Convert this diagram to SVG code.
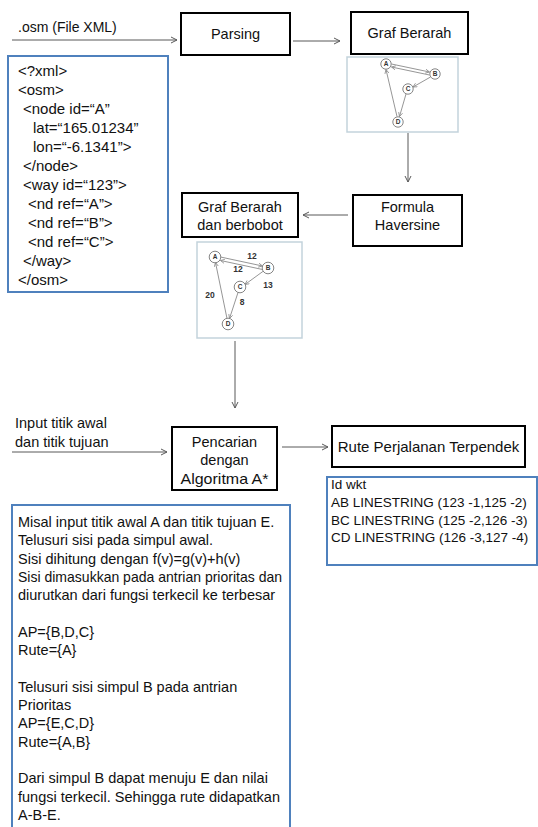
<svg xmlns="http://www.w3.org/2000/svg" width="538" height="827" viewBox="0 0 538 827">
<defs>
<style>
.t{font-family:"Liberation Sans",Arial,sans-serif;font-size:14.5px;fill:#111}
.x{font-size:15px}
.k{font-size:13.5px}
.c{text-anchor:middle}
.box{fill:#fff;stroke:#000;stroke-width:2}
.blue{fill:#fff;stroke:#4f81bd;stroke-width:2}
.img{fill:#fff;stroke:#c3d3dc;stroke-width:1.5}
.conn{stroke:#595959;stroke-width:1;fill:none}
.g{stroke:#8a8a8a;stroke-width:0.9;fill:none}
.nd{fill:#fff;stroke:#777;stroke-width:0.9}
.nl{font-family:"Liberation Sans",Arial,sans-serif;font-size:6.5px;font-weight:bold;fill:#333;text-anchor:middle}
.w{font-family:"Liberation Sans",Arial,sans-serif;font-size:8.5px;font-weight:bold;fill:#333;text-anchor:middle}
</style>
<marker id="ar" markerWidth="8" markerHeight="8" refX="7" refY="4" orient="auto" markerUnits="userSpaceOnUse">
<path d="M1,1 L7,4 L1,7" fill="none" stroke="#595959" stroke-width="1"/>
</marker>
<marker id="sa" markerWidth="5" markerHeight="5" refX="4.5" refY="2.5" orient="auto" markerUnits="userSpaceOnUse">
<path d="M0.5,0.5 L4.5,2.5 L0.5,4.5" fill="none" stroke="#8a8a8a" stroke-width="0.8"/>
</marker>
</defs>
<rect width="538" height="827" fill="#fff"/>

<g id="connectors">
<line class="conn" x1="12" y1="40" x2="177" y2="40" marker-end="url(#ar)"/>
<line class="conn" x1="293" y1="41" x2="340" y2="41" marker-end="url(#ar)"/>
<line class="conn" x1="408" y1="133" x2="408" y2="182" marker-end="url(#ar)"/>
<line class="conn" x1="348" y1="215" x2="303" y2="215" marker-end="url(#ar)"/>
<line class="conn" x1="235" y1="341" x2="235" y2="408" marker-end="url(#ar)"/>
<line class="conn" x1="12" y1="452" x2="167" y2="452" marker-end="url(#ar)"/>
<line class="conn" x1="282" y1="447" x2="328" y2="447" marker-end="url(#ar)"/>
</g>

<g id="input-osm">
<text class="t" x="18" y="32" style="font-size:14px">.osm (File XML)</text>
</g>

<g id="parsing">
<rect class="box" x="181" y="13" width="109" height="42"/>
<text class="t c" x="235.5" y="39">Parsing</text>
</g>

<g id="graf-berarah">
<rect class="box" x="351" y="12" width="117" height="42"/>
<text class="t c" x="409.5" y="38">Graf Berarah</text>
</g>

<g id="graf-berarah-image">
<rect class="img" x="347" y="57" width="111" height="75"/>
<line class="g" x1="391.5" y1="64" x2="429.5" y2="72" marker-end="url(#sa)"/>
<line class="g" x1="429.5" y1="75" x2="391.5" y2="67" marker-end="url(#sa)"/>
<line class="g" x1="430.5" y1="77" x2="413" y2="87" marker-end="url(#sa)"/>
<line class="g" x1="406" y1="94" x2="399.5" y2="116.5" marker-end="url(#sa)"/>
<line class="g" x1="397" y1="116.5" x2="386" y2="69.5" marker-end="url(#sa)"/>
<circle class="nd" cx="386" cy="64" r="5.2"/><text class="nl" x="386" y="66.3">A</text>
<circle class="nd" cx="435" cy="74" r="5.2"/><text class="nl" x="435" y="76.3">B</text>
<circle class="nd" cx="408" cy="89" r="5.2"/><text class="nl" x="408" y="91.3">C</text>
<circle class="nd" cx="398" cy="122" r="5.2"/><text class="nl" x="398" y="124.3">D</text>
</g>

<g id="xml-box">
<rect class="blue" x="8" y="56" width="160" height="236"/>
<text class="t x" x="18" y="76">&lt;?xml&gt;</text>
<text class="t x" x="18" y="95">&lt;osm&gt;</text>
<text class="t x" x="23" y="114">&lt;node id=“A”</text>
<text class="t x" x="33" y="133">lat=“165.01234”</text>
<text class="t x" x="33" y="152">lon=“-6.1341”&gt;</text>
<text class="t x" x="23" y="171">&lt;/node&gt;</text>
<text class="t x" x="23" y="190">&lt;way id=“123”&gt;</text>
<text class="t x" x="28" y="209">&lt;nd ref=“A”&gt;</text>
<text class="t x" x="28" y="228">&lt;nd ref=“B”&gt;</text>
<text class="t x" x="28" y="247">&lt;nd ref=“C”&gt;</text>
<text class="t x" x="23" y="266">&lt;/way&gt;</text>
<text class="t x" x="18" y="285">&lt;/osm&gt;</text>
</g>

<g id="formula-haversine">
<rect class="box" x="353" y="195" width="109" height="51"/>
<text class="t c" x="407.5" y="212">Formula</text>
<text class="t c" x="407.5" y="230">Haversine</text>
</g>

<g id="graf-berbobot">
<rect class="box" x="182" y="193" width="116" height="44"/>
<text class="t c" x="240" y="212">Graf Berarah</text>
<text class="t c" x="240" y="230">dan berbobot</text>
</g>

<g id="graf-berbobot-image">
<rect class="img" x="197" y="242" width="105" height="96"/>
<line class="g" x1="220.5" y1="257" x2="262.5" y2="266" marker-end="url(#sa)"/>
<line class="g" x1="262.5" y1="269.5" x2="220.5" y2="260.5" marker-end="url(#sa)"/>
<line class="g" x1="263.5" y1="271" x2="245" y2="284.5" marker-end="url(#sa)"/>
<line class="g" x1="238" y1="292.5" x2="229.5" y2="318.5" marker-end="url(#sa)"/>
<line class="g" x1="227" y1="318.5" x2="215.5" y2="262.5" marker-end="url(#sa)"/>
<circle class="nd" cx="215" cy="257" r="5.8"/><text class="nl" x="215" y="259.3">A</text>
<circle class="nd" cx="268" cy="268" r="5.8"/><text class="nl" x="268" y="270.3">B</text>
<circle class="nd" cx="240" cy="287" r="5.8"/><text class="nl" x="240" y="289.3">C</text>
<circle class="nd" cx="228" cy="324" r="5.8"/><text class="nl" x="228" y="326.3">D</text>
<text class="w" x="252" y="259">12</text>
<text class="w" x="238" y="272">12</text>
<text class="w" x="268" y="288">13</text>
<text class="w" x="210" y="298">20</text>
<text class="w" x="242" y="305">8</text>
</g>

<g id="input-titik">
<text class="t" x="15" y="428">Input titik awal</text>
<text class="t" x="15" y="447">dan titik tujuan</text>
</g>

<g id="pencarian">
<rect class="box" x="172" y="427" width="105" height="63"/>
<text class="t c" x="224.5" y="447">Pencarian</text>
<text class="t c" x="224.5" y="465">dengan</text>
<text class="t c" x="224.5" y="484" textLength="88" lengthAdjust="spacingAndGlyphs">Algoritma A*</text>
</g>

<g id="rute-terpendek">
<rect class="box" x="332" y="426" width="193" height="41"/>
<text class="t c" x="428.5" y="452" style="font-size:15px">Rute Perjalanan Terpendek</text>
</g>

<g id="wkt-box">
<rect class="blue" x="327" y="477" width="210" height="88"/>
<text class="t k" x="331" y="489">Id wkt</text>
<text class="t k" x="331" y="507">AB LINESTRING (123 -1,125 -2)</text>
<text class="t k" x="331" y="525">BC LINESTRING (125 -2,126 -3)</text>
<text class="t k" x="331" y="542">CD LINESTRING (126 -3,127 -4)</text>
</g>

<g id="algoritma-box">
<rect class="blue" x="12" y="505" width="278" height="340"/>
<text class="t" x="18" y="527">Misal input titik awal A dan titik tujuan E.</text>
<text class="t" x="18" y="545.3">Telusuri sisi pada simpul awal.</text>
<text class="t" x="18" y="563.6">Sisi dihitung dengan f(v)=g(v)+h(v)</text>
<text class="t" x="18" y="581.9" textLength="264" lengthAdjust="spacingAndGlyphs">Sisi dimasukkan pada antrian prioritas dan</text>
<text class="t" x="18" y="600.2">diurutkan dari fungsi terkecil ke terbesar</text>
<text class="t" x="18" y="636.8">AP={B,D,C}</text>
<text class="t" x="18" y="655.1">Rute={A}</text>
<text class="t" x="18" y="691.7">Telusuri sisi simpul B pada antrian</text>
<text class="t" x="18" y="710">Prioritas</text>
<text class="t" x="18" y="728.3">AP={E,C,D}</text>
<text class="t" x="18" y="746.6">Rute={A,B}</text>
<text class="t" x="18" y="783.2">Dari simpul B dapat menuju E dan nilai</text>
<text class="t" x="18" y="801.5">fungsi terkecil. Sehingga rute didapatkan</text>
<text class="t" x="18" y="819.8">A-B-E.</text>
</g>
</svg>
